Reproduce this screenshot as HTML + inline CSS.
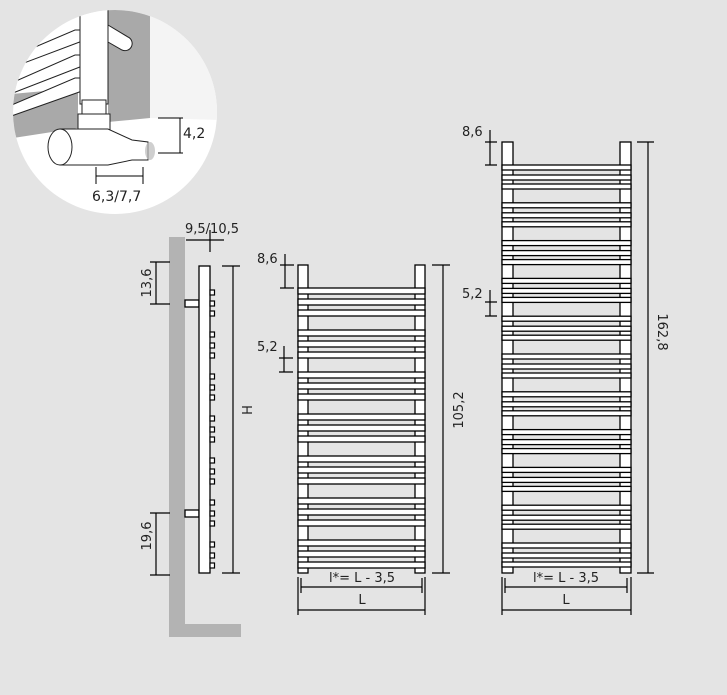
<!DOCTYPE html>
<html><head><meta charset="utf-8"><style>
html,body{margin:0;padding:0;background:#e4e4e4;}
svg{display:block;font-family:"DejaVu Sans","Liberation Sans",sans-serif;}
text{font-size:13px;fill:#222;}
</style></head><body>
<svg width="727" height="695" viewBox="0 0 727 695" xmlns="http://www.w3.org/2000/svg">
<defs>
<clipPath id="cc"><circle cx="115" cy="112" r="102"/></clipPath>
<g id="gm" fill="#fff" stroke="#000" stroke-width="1.3">
<rect x="298" y="0" width="127" height="6"/><rect x="298" y="11" width="127" height="6"/><rect x="298" y="22" width="127" height="6"/>
</g>
<g id="gl" fill="#fff" stroke="#000" stroke-width="1.3">
<rect x="502" y="0" width="129" height="5"/><rect x="502" y="10" width="129" height="5"/><rect x="502" y="19" width="129" height="5"/>
</g>
<g id="sq" fill="#fff" stroke="#000" stroke-width="1.2">
<rect x="210" y="0" width="4.5" height="5"/><rect x="210" y="11" width="4.5" height="5"/><rect x="210" y="21" width="4.5" height="5"/>
</g>
</defs>

<!-- inset circle -->
<circle cx="115" cy="112" r="102" fill="#fff"/>
<g clip-path="url(#cc)">
<polygon points="108,0 150,0 150,118 108,122" fill="#a9a9a9"/>
<polygon points="150,0 220,0 220,120 150,118" fill="#f4f4f4"/>
<polygon points="0,95 78,88 78,128 0,140" fill="#a9a9a9"/>
<g fill="#fff" stroke="#222" stroke-width="1">
<polygon points="0,62 75,30 85,30 85,40 0,72"/>
<polygon points="0,88 75,55 85,55 85,65 0,98"/>
<polygon points="0,110 75,78 85,78 85,90 0,120"/>
<rect x="80" y="0" width="28" height="104"/>
<path d="M108,25 L128,37 A7,7 0 0 1 122,50 L108,42 Z"/>
<rect x="82" y="100" width="24" height="14"/>
<rect x="78" y="114" width="32" height="30"/>
<path d="M60,129 L108,129 L132,140 L148,142 L148,160 L132,160 L108,165 L60,165 Z"/>
<ellipse cx="60" cy="147" rx="12" ry="18"/>
</g>
<ellipse cx="150" cy="151" rx="5" ry="9" fill="#bbb" opacity="0.7"/>
</g>
<g stroke="#000" stroke-width="1" fill="none">
<path d="M180,118V153M158,118H183M158,153H183"/>
<path d="M96,176H143M96,167V184M143,167V184"/>
</g>
<text x="183" y="138" style="font-size:14px">4,2</text>
<text x="92" y="201" style="font-size:14px">6,3/7,7</text>

<!-- side view -->
<rect x="169" y="237" width="16" height="400" fill="#b3b3b3"/>
<rect x="169" y="624" width="72" height="13" fill="#b3b3b3"/>
<g stroke="#000" stroke-width="1.3" fill="#fff">
<rect x="185" y="300" width="14" height="7"/>
<rect x="185" y="510" width="14" height="7"/>
<rect x="199" y="266" width="11" height="307"/>
</g>
<use href="#sq" y="290"/><use href="#sq" y="332"/><use href="#sq" y="374"/><use href="#sq" y="416"/><use href="#sq" y="458"/><use href="#sq" y="500"/><use href="#sq" y="542"/>
<g stroke="#000" stroke-width="1.2" fill="none">
<path d="M233,266V573M222,266H240M222,573H240"/>
<path d="M156,262V304M150,262H170M150,304H170"/>
<path d="M156,513V575M150,513H170M150,575H170"/>
<path d="M186,240H224M210,230V252"/>
</g>
<text x="185" y="233">9,5/10,5</text>
<text transform="translate(151,283) rotate(-90)" text-anchor="middle">13,6</text>
<text transform="translate(151,536) rotate(-90)" text-anchor="middle">19,6</text>
<text transform="translate(242,410) rotate(90)" text-anchor="middle">H</text>

<!-- medium radiator -->
<g stroke="#000" stroke-width="1.3" fill="#fff">
<rect x="298" y="265" width="10" height="308"/>
<rect x="415" y="265" width="10" height="308"/>
</g>
<use href="#gm" y="288"/><use href="#gm" y="330"/><use href="#gm" y="372"/><use href="#gm" y="414"/><use href="#gm" y="456"/><use href="#gm" y="498"/><use href="#gm" y="540"/>
<g stroke="#000" stroke-width="1.2" fill="none">
<path d="M443,265V573M432,265H450M432,573H450"/>
<path d="M285,254V288M280,265H294M280,288H294"/>
<path d="M284,346V372M279,358H293M279,372H293"/>
<path d="M301,587H422M301,578V593M422,578V593"/>
<path d="M298,610H425M298,577V615M425,577V615"/>
</g>
<text x="257" y="263">8,6</text>
<text x="257" y="351">5,2</text>
<text transform="translate(463,410) rotate(-90)" text-anchor="middle">105,2</text>
<text x="362" y="582" text-anchor="middle">l*= L - 3,5</text>
<text x="362" y="604" text-anchor="middle">L</text>

<!-- large radiator -->
<g stroke="#000" stroke-width="1.3" fill="#fff">
<rect x="502" y="142" width="11" height="431"/>
<rect x="620" y="142" width="11" height="431"/>
</g>
<use href="#gl" y="165"/><use href="#gl" y="202.8"/><use href="#gl" y="240.6"/><use href="#gl" y="278.4"/><use href="#gl" y="316.2"/><use href="#gl" y="354"/><use href="#gl" y="391.8"/><use href="#gl" y="429.6"/><use href="#gl" y="467.4"/><use href="#gl" y="505.2"/><use href="#gl" y="543"/>
<g stroke="#000" stroke-width="1.2" fill="none">
<path d="M648,142V573M637,142H654M637,573H654"/>
<path d="M490,130V165M485,142H497M485,165H497"/>
<path d="M490,290V316M485,302H497M485,316H497"/>
<path d="M505,587H627M505,578V593M627,578V593"/>
<path d="M502,610H631M502,577V615M631,577V615"/>
</g>
<text x="462" y="136">8,6</text>
<text x="462" y="298">5,2</text>
<text transform="translate(658,332) rotate(90)" text-anchor="middle">162,8</text>
<text x="566" y="582" text-anchor="middle">l*= L - 3,5</text>
<text x="566" y="604" text-anchor="middle">L</text>
</svg>
</body></html>
